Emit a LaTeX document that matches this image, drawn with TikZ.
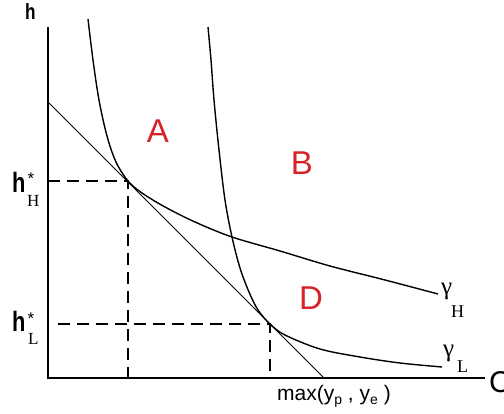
\documentclass[tikz,border=0pt]{standalone}
\usepackage{fontspec}
\setmainfont{Liberation Sans}
\newfontfamily\serifgr{Liberation Serif}
\definecolor{lblred}{RGB}{215,35,40}
\newcommand{\fs}[1]{\fontsize{#1}{#1}\selectfont}
\newcommand{\lowsub}[1]{\raisebox{-5pt}{\fs{14}#1}}
\newcommand{\narrowh}{\scalebox{0.78}[1]{h}}
\begin{document}
\begin{tikzpicture}[x=1pt,y=-1pt,
  axisline/.style={line width=1.6pt},
  tangline/.style={line width=1.0pt},
  curveline/.style={line width=1.4pt},
  guide/.style={line width=1.4pt, dash pattern=on 12pt off 7pt},
  region/.style={text=lblred, font=\fs{33}, inner sep=0pt},
  lbl/.style={inner sep=0pt, anchor=base west}]
\useasboundingbox (0,0) rectangle (504,414);
% axes
\coordinate (ytop) at (48,27);
\coordinate (O) at (48,378);
\coordinate (xend) at (485,378);
\draw[axisline] (ytop) -- (O) -- (xend);
% tangent line
\coordinate (d1) at (48,102);
\coordinate (d2) at (324,378);
\draw[tangline] (d1) -- (d2);
% tangency points and guides
\coordinate (TH) at (128,181);
\coordinate (TL) at (270,324);
\coordinate (hHy) at (48,181);
\coordinate (xH) at (128,378);
\coordinate (hLy) at (58,324);
\coordinate (xL) at (270,378);
\draw[guide] (hHy) -- (TH) -- (xH);
\draw[guide] (hLy) -- (TL) -- (xL);
% curves
\draw[curveline] plot[smooth, tension=0.55] coordinates {(88,19) (93,60) (99,100) (107,136) (116,162) (128,181) (142,193) (165,207) (195,222) (232,237) (280,251) (330,266) (385,280) (438,294)};
\draw[curveline] plot[smooth, tension=0.55] coordinates {(208,27) (211,60) (214,100) (219,150) (225,200) (232,237) (240,268) (249,292) (258,310) (270,324) (285,335) (320,349) (360,357) (400,363) (442,367)};
% axis labels
\node[lbl, font=\fs{22}\bfseries] (hlab) at (25,20) {\narrowh};
\node[lbl, font=\fs{28}\bfseries] (hH) at (12,193) {\narrowh};
\node[inner sep=0pt, font=\fs{17}] (hHs) at (31,179) {*};
\node[lbl, font=\serifgr\fs{17}] (hHsub) at (27,207) {H};
\node[lbl, font=\fs{28}\bfseries] (hL) at (12,332) {\narrowh};
\node[inner sep=0pt, font=\fs{17}] (hLs) at (31,319) {*};
\node[lbl, font=\serifgr\fs{17}] (hLsub) at (28,345) {L};
\node[lbl, font=\fs{30}] (Clab) at (489,392) {C};
\node[lbl, font=\fs{21}] (maxlab) at (277,400) {max(y\lowsub{p} , y\lowsub{e} )};
% gamma labels
\node[lbl, font=\serifgr\fs{25}] (gH) at (441,295) {γ};
\node[lbl, font=\serifgr\fs{18}] (gHsub) at (451,318) {H};
\node[lbl, font=\serifgr\fs{25}] (gL) at (443,357) {γ};
\node[lbl, font=\serifgr\fs{18}] (gLsub) at (457,373) {L};
% regions
\node[region] (A) at (158,131) {A};
\node[region] (B) at (302,163) {B};
\node[region] (D) at (311,298) {D};
\end{tikzpicture}
\end{document}
